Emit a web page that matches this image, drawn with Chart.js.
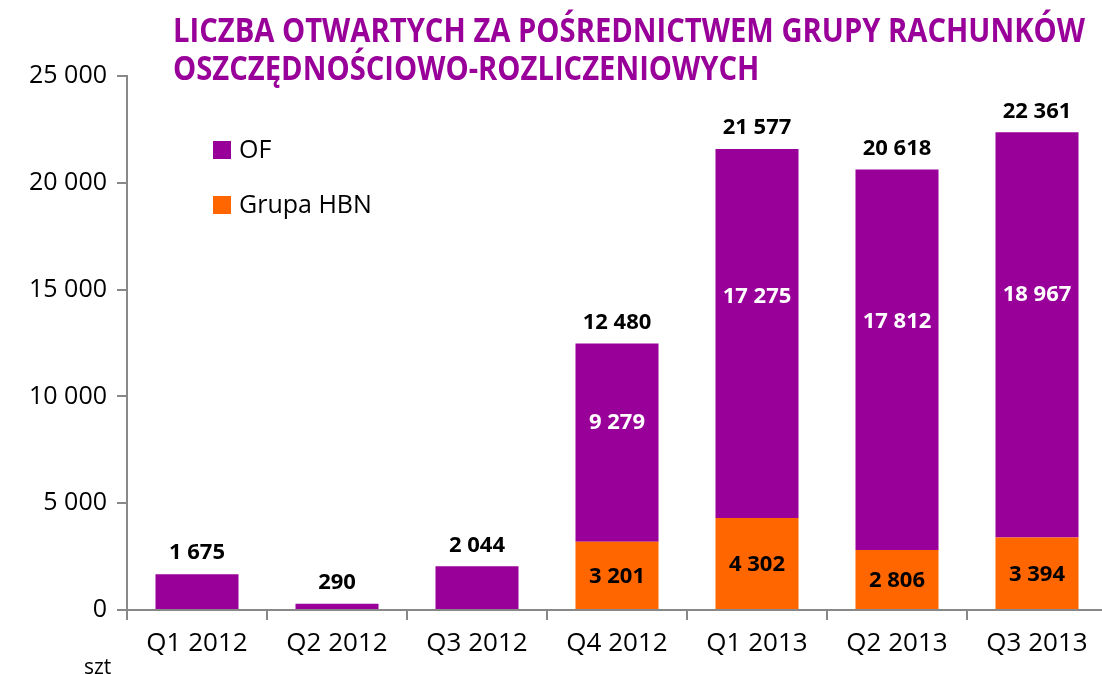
<!DOCTYPE html>
<html>
<head>
<meta charset="utf-8">
<script src="https://cdn.jsdelivr.net/npm/chart.js@4/dist/chart.umd.min.js"></script>
<style>
  html, body { margin: 0; padding: 0; background: #fff; overflow: hidden; }
  #wrap { width: 1110px; height: 674px; position: relative; }
</style>
</head>
<body>
<div id="wrap"><canvas id="myChart" width="1110" height="674"></canvas></div>
<script>
// Data
const quarters = ['Q1 2012', 'Q2 2012', 'Q3 2012', 'Q4 2012', 'Q1 2013', 'Q2 2013', 'Q3 2013'];
const hbn = [null, null, null, 3201, 4302, 2806, 3394];
const of = [1675, 290, 2044, 9279, 17275, 17812, 18967];
const totals = [1675, 290, 2044, 12480, 21577, 20618, 22361];
const yTicks = [0, 5000, 10000, 15000, 20000, 25000];

const titleLines = ['LICZBA OTWARTYCH ZA POŚREDNICTWEM GRUPY RACHUNKÓW', 'OSZCZĘDNOŚCIOWO-ROZLICZENIOWYCH'];

const PURPLE = '#990099';
const ORANGE = '#FF6600';
const FONT = '"Open Sans", "Noto Sans", sans-serif';

function fmt(v) {
  return String(v).replace(/\B(?=(\d{3})+(?!\d))/g, ' ');
}

//Title, legend, labels and unit
const extras = {
  id: 'extras',
  afterDraw(chart) {
    const {ctx, scales: {y}} = chart;
    ctx.save();

    // title, squeezed like the condensed original
    ctx.fillStyle = PURPLE;
    ctx.font = 'bold 34px ' + FONT;
    ctx.textBaseline = 'alphabetic';
    const sx = 912 / ctx.measureText(titleLines[0]).width;
    ctx.save();
    ctx.translate(173, 0);
    ctx.scale(sx, 1);
    ctx.fillText(titleLines[0], 0, 42);
    ctx.fillText(titleLines[1], 0, 80);
    ctx.restore();

    // legend
    const items = [{label: 'OF', color: PURPLE}, {label: 'Grupa HBN', color: ORANGE}];
    ctx.font = '25px ' + FONT;
    ctx.textBaseline = 'middle';
    items.forEach((it, i) => {
      const ly = 150 + i * 55;
      ctx.fillStyle = it.color;
      ctx.fillRect(213, ly - 9, 18, 18);
      ctx.fillStyle = '#000';
      ctx.fillText(it.label, 239, ly + 1);
    });

    // value labels
    ctx.font = 'bold 22px ' + FONT;
    ctx.textAlign = 'center';
    const barsOf = chart.getDatasetMeta(1).data;
    quarters.forEach((q, i) => {
      const x = barsOf[i].x;
      ctx.fillStyle = '#000';
      ctx.fillText(fmt(totals[i]), x, y.getPixelForValue(totals[i]) - 21);
      if (hbn[i]) {
        ctx.fillText(fmt(hbn[i]), x, y.getPixelForValue(hbn[i] / 2) + 1);
        ctx.fillStyle = '#fff';
        ctx.fillText(fmt(of[i]), x, y.getPixelForValue(hbn[i] + of[i] * 0.6));
      }
    });

    // unit
    ctx.fillStyle = '#000';
    ctx.font = '21px ' + FONT;
    ctx.textAlign = 'left';
    ctx.textBaseline = 'alphabetic';
    ctx.fillText('szt', 84, 674);
    ctx.restore();
  }
};

new Chart('myChart', {
  type: 'bar',
  data: {
    labels: quarters,
    datasets: [
      {label: 'Grupa HBN', data: hbn, backgroundColor: ORANGE, barPercentage: 0.593, categoryPercentage: 1},
      {label: 'OF', data: of, backgroundColor: PURPLE, barPercentage: 0.593, categoryPercentage: 1}
    ]
  },
  options: {
    responsive: false,
    animation: false,
    layout: {padding: {top: 76, right: 3, left: 0, bottom: 0}},
    plugins: {legend: {display: false}, tooltip: {enabled: false}},
    scales: {
      x: {
        stacked: true,
        offset: true,
        grid: {display: true, offset: true, drawOnChartArea: false, drawTicks: true, tickLength: 10, color: '#888', lineWidth: 2},
        border: {color: '#888', width: 2},
        ticks: {color: '#000', font: {family: FONT, size: 26}, padding: 8},
        afterFit(scale) { scale.height = 64; }
      },
      y: {
        stacked: true,
        min: 0,
        max: 25000,
        afterBuildTicks(scale) { scale.ticks = yTicks.map(v => ({value: v})); },
        grid: {display: true, drawOnChartArea: false, drawTicks: true, tickLength: 10, color: '#888', lineWidth: 2},
        border: {color: '#888', width: 2},
        ticks: {color: '#000', font: {family: FONT, size: 25}, padding: 10, callback: v => fmt(v)},
        afterFit(scale) { scale.width = 127; }
      }
    }
  },
  plugins: [extras]
});
</script>
</body>
</html>
